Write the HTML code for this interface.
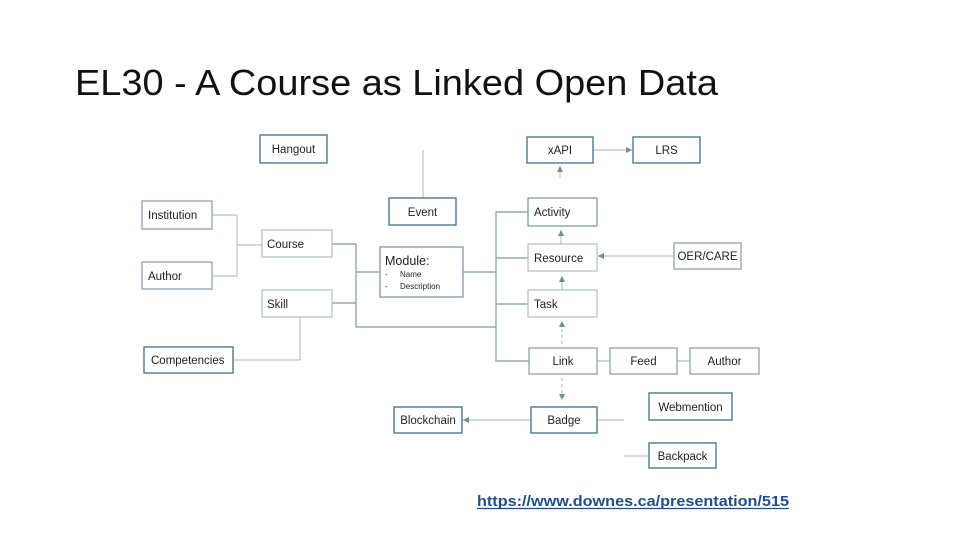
<!DOCTYPE html>
<html><head><meta charset="utf-8"><style>
html,body{margin:0;padding:0;background:#fff;width:960px;height:540px;overflow:hidden}
svg{display:block}
text{font-family:"Liberation Sans",sans-serif;fill:#222}
.b{fill:#fff;stroke:#3d6f82;stroke-width:1.3}
.c{stroke:#7f9aa5;stroke-width:1.2;fill:none}
.l{stroke:#b5c4ca;stroke-width:1.2;fill:none}
.t{font-size:11.5px}
</style></head><body>
<svg width="960" height="540" viewBox="0 0 960 540">
<defs><marker id="a" markerWidth="6" markerHeight="6" refX="5" refY="3" orient="auto"><path d="M0,0.5 L5,3 L0,5.5z" fill="#6f8c98"/></marker></defs>
<text x="75" y="95" font-size="36" textLength="643" lengthAdjust="spacingAndGlyphs" style="fill:#111">EL30 - A Course as Linked Open Data</text>

<!-- connectors -->
<path class="l" d="M212 215 H237 V276 H212 M237 245 H262"/>
<path class="l" d="M300 317 V360 H233"/>
<path class="l" d="M423 150 V198"/>
<path class="c" d="M332 244 H356 V327 H496 M356 272 H380 M332 303 H356"/>
<path class="c" d="M463 272 H496"/>
<path class="c" d="M528 212 H496 V361 H529 M496 258 H528 M496 304 H528"/>
<path class="l" d="M593 150 H632" marker-end="url(#a)"/>
<path class="l" d="M560 178 V166" marker-end="url(#a)"/>
<path class="l" d="M561 244 V230" marker-end="url(#a)"/>
<path class="l" d="M562 290 V276" marker-end="url(#a)"/>
<path class="l" d="M562 344 V321" stroke-dasharray="3,3" marker-end="url(#a)"/>
<path class="l" d="M562 378 V400" stroke-dasharray="3,3" marker-end="url(#a)"/>
<path class="l" d="M674 256 H598" marker-end="url(#a)"/>
<path class="l" d="M531 420 H463" marker-end="url(#a)"/>
<path class="l" d="M597 420 H624 M624 456 H649 M597 361 H610 M677 361 H690"/>

<!-- boxes -->
<rect class="b" x="260" y="135" width="67" height="28"/><text class="t" x="293.5" y="153" text-anchor="middle">Hangout</text>
<rect class="b" x="142" y="201" width="70" height="28" style="stroke:#8ea4ad"/><text class="t" x="148" y="219">Institution</text>
<rect class="b" x="142" y="262" width="70" height="27" style="stroke:#8ea4ad"/><text class="t" x="148" y="280">Author</text>
<rect class="b" x="262" y="230" width="70" height="27" style="stroke:#b5c4ca"/><text class="t" x="267" y="248">Course</text>
<rect class="b" x="262" y="290" width="70" height="27" style="stroke:#b5c4ca"/><text class="t" x="267" y="308">Skill</text>
<rect class="b" x="144" y="347" width="89" height="26"/><text class="t" x="151" y="364">Competencies</text>
<rect class="b" x="389" y="198" width="67" height="27"/><text class="t" x="422.5" y="216" text-anchor="middle">Event</text>
<rect class="b" x="380" y="247" width="83" height="50" style="stroke:#7f9aa5"/>
<text x="385" y="265" font-size="12.5">Module:</text>
<text x="385" y="277" font-size="8">-</text><text x="400" y="277" font-size="8">Name</text>
<text x="385" y="289" font-size="8">-</text><text x="400" y="289" font-size="8">Description</text>
<rect class="b" x="527" y="137" width="66" height="26"/><text class="t" x="560" y="154" text-anchor="middle">xAPI</text>
<rect class="b" x="633" y="137" width="67" height="26"/><text class="t" x="666.5" y="154" text-anchor="middle">LRS</text>
<rect class="b" x="528" y="198" width="69" height="28" style="stroke:#7f9aa5"/><text class="t" x="534" y="216">Activity</text>
<rect class="b" x="528" y="244" width="69" height="27" style="stroke:#b5c4ca"/><text class="t" x="534" y="262">Resource</text>
<rect class="b" x="528" y="290" width="69" height="27" style="stroke:#b5c4ca"/><text class="t" x="534" y="308">Task</text>
<rect class="b" x="674" y="243" width="67" height="26" style="stroke:#8ea4ad"/><text class="t" x="707.5" y="260" text-anchor="middle">OER/CARE</text>
<rect class="b" x="529" y="348" width="68" height="26" style="stroke:#8ea4ad"/><text class="t" x="563" y="365" text-anchor="middle">Link</text>
<rect class="b" x="610" y="348" width="67" height="26" style="stroke:#8ea4ad"/><text class="t" x="643.5" y="365" text-anchor="middle">Feed</text>
<rect class="b" x="690" y="348" width="69" height="26" style="stroke:#8ea4ad"/><text class="t" x="724.5" y="365" text-anchor="middle">Author</text>
<rect class="b" x="649" y="393" width="83" height="27"/><text class="t" x="690.5" y="411" text-anchor="middle">Webmention</text>
<rect class="b" x="531" y="407" width="66" height="26"/><text class="t" x="564" y="424" text-anchor="middle">Badge</text>
<rect class="b" x="394" y="407" width="68" height="26"/><text class="t" x="428" y="424" text-anchor="middle">Blockchain</text>
<rect class="b" x="649" y="443" width="67" height="25"/><text class="t" x="682.5" y="460" text-anchor="middle">Backpack</text>

<text x="477" y="506" font-size="14.5" font-weight="bold" textLength="312" lengthAdjust="spacingAndGlyphs" style="fill:#1f4e8c">https://www.downes.ca/presentation/515</text>
<line x1="477" y1="508.5" x2="789" y2="508.5" stroke="#1f4e8c" stroke-width="1.2"/>
</svg>
</body></html>
